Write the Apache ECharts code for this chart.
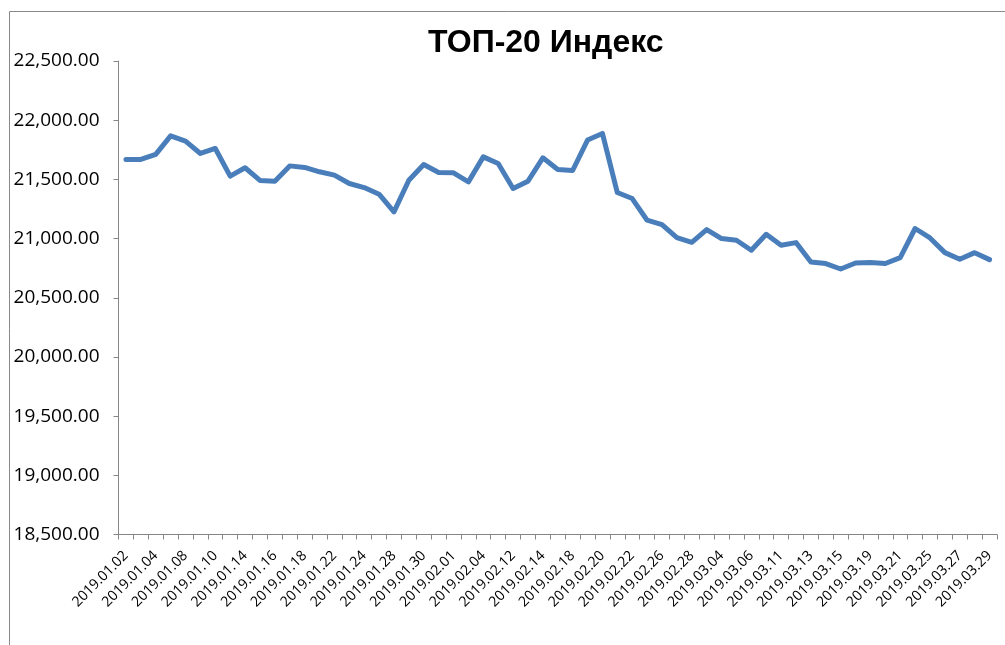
<!DOCTYPE html>
<html>
<head>
<meta charset="utf-8">
<script src="https://cdn.jsdelivr.net/npm/echarts@6/dist/echarts.min.js"></script>
<style>html,body{margin:0;padding:0;background:#fff;}#c{width:1005px;height:645px;}</style>
</head>
<body>
<div id="c"></div>
<script>
var categories = [
 '2019.01.02','2019.01.03','2019.01.04','2019.01.07','2019.01.08','2019.01.09','2019.01.10','2019.01.11',
 '2019.01.14','2019.01.15','2019.01.16','2019.01.17','2019.01.18','2019.01.21','2019.01.22','2019.01.23',
 '2019.01.24','2019.01.25','2019.01.28','2019.01.29','2019.01.30','2019.01.31','2019.02.01','2019.02.02',
 '2019.02.04','2019.02.11','2019.02.12','2019.02.13','2019.02.14','2019.02.15','2019.02.18','2019.02.19',
 '2019.02.20','2019.02.21','2019.02.22','2019.02.25','2019.02.26','2019.02.27','2019.02.28','2019.03.01',
 '2019.03.04','2019.03.05','2019.03.06','2019.03.07','2019.03.11','2019.03.12','2019.03.13','2019.03.14',
 '2019.03.15','2019.03.18','2019.03.19','2019.03.20','2019.03.21','2019.03.22','2019.03.25','2019.03.26',
 '2019.03.27','2019.03.28','2019.03.29'
];
var indexValues = [
 21668, 21668, 21711, 21868, 21823, 21719, 21761, 21527,
 21598, 21491, 21485, 21614, 21601, 21564, 21536, 21465,
 21431, 21375, 21225, 21493, 21626, 21558, 21555, 21479,
 21690, 21634, 21423, 21485, 21682, 21584, 21575, 21832,
 21888, 21389, 21338, 21155, 21118, 21008, 20968, 21076,
 21000, 20986, 20901, 21036, 20943, 20966, 20802, 20789,
 20743, 20794, 20797, 20789, 20839, 21085, 21005, 20881,
 20825, 20881, 20822
];
var yTicks = {min: 18500, max: 22500, step: 500};
var titleText = 'ТОП-20 Индекс';

var chart = echarts.init(document.getElementById('c'));
chart.setOption({
  animation: false,
  backgroundColor: '#fff',
  title: {
    text: titleText, left: 423, top: 22,
    textStyle: {fontFamily: 'Liberation Sans', fontWeight: 'bold', fontSize: 32, color: '#000'}
  },
  graphic: [{
    type: 'rect', shape: {x: 9.5, y: 11.5, width: 1100, height: 700},
    style: {fill: 'none', stroke: '#898989', lineWidth: 1}, silent: true
  }],
  grid: {left: 118.5, right: 8, top: 61, bottom: 110.5, containLabel: false},
  xAxis: {
    type: 'category', data: categories, boundaryGap: true,
    axisLine: {lineStyle: {color: '#868686', width: 1}},
    axisTick: {show: true, interval: 0, length: 5, lineStyle: {color: '#868686'}},
    axisLabel: {interval: 1, rotate: 45, margin: 19, color: '#000', fontFamily: 'Open Sans', fontSize: 14.2},
    splitLine: {show: false}
  },
  yAxis: {
    type: 'value', min: yTicks.min, max: yTicks.max, interval: yTicks.step,
    axisLine: {show: true, lineStyle: {color: '#868686', width: 1}},
    axisTick: {show: true, length: 5, lineStyle: {color: '#868686'}},
    axisLabel: {margin: 19, color: '#000', fontFamily: 'Open Sans', fontSize: 19,
      formatter: function (v) { return v.toLocaleString('en-US', {minimumFractionDigits: 2, maximumFractionDigits: 2}); }},
    splitLine: {show: false}
  },
  series: [{
    type: 'line', data: indexValues, showSymbol: false, symbol: 'none',
    lineStyle: {color: '#4a7ebb', width: 5, cap: 'round', join: 'round'}
  }]
});
</script>
</body>
</html>
